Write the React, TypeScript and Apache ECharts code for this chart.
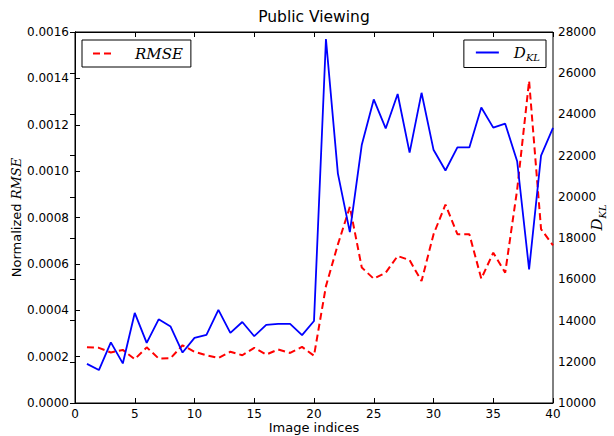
import React, { useEffect, useRef } from "react";
import * as echarts from "echarts";

const indices: number[] = Array.from({ length: 40 }, (_, i) => i + 1);

const rmseValues: number[] = [
  0.00024, 0.000238, 0.000218, 0.000229, 0.000189, 0.00024, 0.000192, 0.000193, 0.000249, 0.000221,
  0.000206, 0.000194, 0.000221, 0.000206, 0.000238, 0.000209, 0.000231, 0.000216, 0.000242, 0.000204,
  0.000504, 0.000684, 0.000846, 0.000584, 0.000536, 0.000562, 0.000634, 0.000616, 0.000526, 0.000727,
  0.000856, 0.000728, 0.000728, 0.000536, 0.000648, 0.000562, 0.00092, 0.001389, 0.00075, 0.00068,
];

const dklValues: number[] = [
  11900, 11600, 12940, 11920, 14370, 12920, 14060, 13710, 12450, 13160,
  13310, 14520, 13400, 13930, 13240, 13790, 13840, 13840, 13290, 13980,
  27660, 21130, 18290, 22530, 24730, 23320, 24990, 22150, 25050, 22290,
  21280, 22400, 22400, 24340, 23360, 23550, 21730, 16480, 22000, 23350,
];

const xTicks = { min: 0, max: 40, interval: 5 };
const leftTicks = { min: 0, max: 0.0016, interval: 0.0002 };
const rightTicks = { min: 10000, max: 28000, interval: 2000 };

const SANS = "DejaVu Sans";
const SERIF = "DejaVu Serif";

export default function App() {
  const ref = useRef<HTMLDivElement>(null);
  useEffect(() => {
    if (!ref.current) return;
    const chart = echarts.init(ref.current, null, { renderer: "svg" });
    const tickStyle = { color: "#000", width: 1 };
    const mathRich = {
      i: { fontFamily: SERIF, fontStyle: "italic", fontSize: 14, color: "#000" },
      d: { fontFamily: SERIF, fontStyle: "italic", fontSize: 15, color: "#000", lineHeight: 20 },
      s: { fontFamily: SERIF, fontStyle: "italic", fontSize: 10, color: "#000", lineHeight: 10, verticalAlign: "bottom" },
    };
    const legendCommon = {
      top: 40,
      itemHeight: 14,
      borderColor: "#000",
      borderWidth: 1,
      borderRadius: 0,
      backgroundColor: "#fff",
      itemStyle: { opacity: 0, borderWidth: 0 },
    };
    chart.setOption({
      animation: false,
      backgroundColor: "#fff",
      title: {
        text: "Public Viewing",
        left: 314,
        textAlign: "center",
        top: 9,
        padding: 0,
        textStyle: { fontFamily: SANS, fontSize: 15.5, fontWeight: "normal", color: "#000" },
      },
      grid: {
        left: 75,
        right: 61,
        top: 32,
        bottom: 33,
        show: true,
        borderColor: "#000",
        borderWidth: 1,
        backgroundColor: "#fff",
        containLabel: false,
        outerBoundsMode: "none",
      },
      legend: [
        {
          ...legendCommon,
          data: ["RMSE"],
          left: 82,
          padding: [6, 8, 6, 10],
          itemWidth: 22,
          formatter: () => "{i|RMSE}",
          textStyle: {
            rich: { i: { fontFamily: SERIF, fontStyle: "italic", fontSize: 15, color: "#000", padding: [0, 0, 0, 15] } },
          },
        },
        {
          ...legendCommon,
          data: ["DKL"],
          right: 68,
          padding: [5, 6, 5, 11],
          itemWidth: 23,
          formatter: () => "{d|D}{s|KL}",
          textStyle: {
            rich: {
              d: { ...mathRich.d, padding: [0, 0, 0, 10] },
              s: mathRich.s,
            },
          },
        },
      ],
      xAxis: [
        {
          type: "value",
          position: "bottom",
          ...xTicks,
          axisLine: { show: true, lineStyle: tickStyle },
          axisTick: { show: true, inside: true, length: 5, lineStyle: tickStyle },
          axisLabel: { color: "#000", fontFamily: SANS, fontSize: 12, margin: 5 },
          splitLine: { show: false },
          name: "Image indices",
          nameLocation: "middle",
          nameGap: 18,
          nameMoveOverlap: false,
          nameTextStyle: { fontFamily: SANS, fontSize: 13, color: "#000" },
        },
        {
          type: "value",
          position: "top",
          ...xTicks,
          axisLine: { show: true, lineStyle: tickStyle },
          axisTick: { show: true, inside: true, length: 5, lineStyle: tickStyle },
          axisLabel: { show: false },
          splitLine: { show: false },
        },
      ],
      yAxis: [
        {
          type: "value",
          position: "left",
          ...leftTicks,
          axisLine: { show: true, lineStyle: tickStyle },
          axisTick: { show: true, inside: true, length: 5, lineStyle: tickStyle },
          axisLabel: { color: "#000", fontFamily: SANS, fontSize: 12, margin: 6, formatter: (v: number) => v.toFixed(4) },
          splitLine: { show: false },
          name: "Normalized {i|RMSE}",
          nameLocation: "middle",
          nameRotate: 90,
          nameGap: 52,
          nameMoveOverlap: false,
          nameTextStyle: { fontFamily: SANS, fontSize: 13, color: "#000", rich: { i: { ...mathRich.i, fontSize: 13 } } },
        },
        {
          type: "value",
          position: "right",
          ...rightTicks,
          axisLine: { show: true, lineStyle: tickStyle },
          axisTick: { show: true, inside: true, length: 5, lineStyle: tickStyle },
          axisLabel: { color: "#000", fontFamily: SANS, fontSize: 12, margin: 5, formatter: (v: number) => String(Math.round(v)) },
          splitLine: { show: false },
          name: "{d|D}{s|KL}",
          nameLocation: "middle",
          nameRotate: 90,
          nameGap: 34,
          nameMoveOverlap: false,
          nameTextStyle: { rich: { d: mathRich.d, s: mathRich.s } },
        },
      ],
      series: [
        {
          name: "RMSE",
          type: "line",
          xAxisIndex: 0,
          yAxisIndex: 0,
          data: indices.map((x, i) => [x, rmseValues[i]]),
          symbol: "none",
          showSymbol: false,
          lineStyle: { color: "#ff0000", width: 2, type: [7, 4] },
          itemStyle: { color: "#ff0000" },
          z: 2,
        },
        {
          name: "DKL",
          type: "line",
          xAxisIndex: 0,
          yAxisIndex: 1,
          data: indices.map((x, i) => [x, dklValues[i]]),
          symbol: "none",
          showSymbol: false,
          lineStyle: { color: "#0000ff", width: 1.8 },
          itemStyle: { color: "#0000ff" },
          z: 3,
        },
      ],
    });
    return () => chart.dispose();
  }, []);
  return <div ref={ref} style={{ width: 614, height: 436, position: "absolute", left: 0, top: 0 }} />;
}
